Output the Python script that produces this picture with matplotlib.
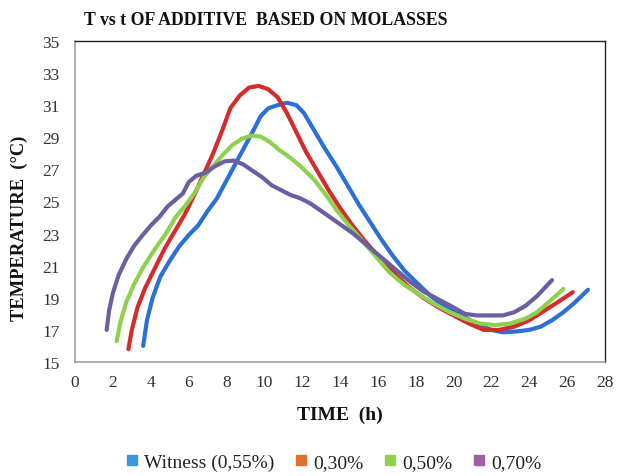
import matplotlib
matplotlib.use("Agg")
import matplotlib.pyplot as plt
from matplotlib.lines import Line2D

# Temperature (°C) over time (h) for molasses-based additive doses
t_witness = [3.6, 3.8, 4.1, 4.5, 5.0, 5.5, 6.0, 6.5, 7.0, 7.5, 8.0, 8.5, 9.0, 9.5, 9.8, 10.2, 10.7,
             11.2, 11.7, 12.1, 12.6, 13.2, 13.8, 14.4, 15.0, 15.6, 16.2, 16.8, 17.4, 18.0, 18.8,
             19.6, 20.4, 21.2, 22.0, 22.6, 23.3, 24.0, 24.6, 25.2, 25.8, 26.4, 27.1]
T_witness = [16.0, 17.6, 19.0, 20.3, 21.3, 22.2, 22.9, 23.5, 24.4, 25.2, 26.3, 27.4, 28.5, 29.6, 30.3,
             30.8, 31.0, 31.15, 31.0, 30.5, 29.5, 28.3, 27.2, 26.0, 24.8, 23.7, 22.6, 21.6, 20.7,
             20.0, 19.1, 18.4, 17.9, 17.4, 17.0, 16.85, 16.9, 17.0, 17.2, 17.6, 18.1, 18.7, 19.5]

t_030 = [2.82, 3.0, 3.3, 3.7, 4.2, 4.75, 5.3, 5.8, 6.3, 6.8, 7.3, 7.8, 8.2, 8.7, 9.2, 9.7, 10.2,
         10.7, 11.2, 11.7, 12.2, 12.8, 13.4, 14.0, 14.6, 15.2, 16.0, 16.8, 17.6, 18.4, 19.2, 20.0,
         20.8, 21.6, 22.4, 23.2, 24.0, 24.8, 25.6, 26.3]
T_030 = [15.8, 17.0, 18.4, 19.6, 20.8, 22.1, 23.2, 24.2, 25.4, 26.7, 28.0, 29.5, 30.8, 31.6, 32.1,
         32.2, 32.0, 31.5, 30.5, 29.3, 28.1, 26.9, 25.7, 24.6, 23.6, 22.7, 21.6, 20.6, 19.7, 19.0,
         18.4, 17.9, 17.4, 17.0, 17.0, 17.2, 17.6, 18.2, 18.8, 19.35]

t_050 = [2.2, 2.4, 2.7, 3.1, 3.6, 4.2, 4.8, 5.3, 5.8, 6.3, 6.8, 7.3, 7.8, 8.3, 8.8, 9.3, 9.8, 10.3,
         10.8, 11.4, 12.0, 12.6, 13.2, 13.8, 14.4, 15.0, 15.8, 16.6, 17.4, 18.2, 19.0, 19.8, 20.6,
         21.4, 22.2, 23.0, 23.8, 24.4, 25.0, 25.8]
T_050 = [16.3, 17.5, 18.7, 19.8, 20.9, 22.0, 23.0, 24.0, 24.7, 25.5, 26.5, 27.2, 27.9, 28.5, 28.9,
         29.1, 29.05, 28.7, 28.2, 27.7, 27.1, 26.4, 25.5, 24.5, 23.6, 22.8, 21.7, 20.6, 19.8, 19.2,
         18.6, 18.1, 17.7, 17.4, 17.3, 17.4, 17.7, 18.1, 18.7, 19.55]

t_070 = [1.67, 1.8, 2.0, 2.3, 2.7, 3.1, 3.5, 4.0, 4.5, 4.9, 5.3, 5.7, 6.0, 6.4, 6.9, 7.4, 7.9, 8.4,
         8.9, 9.4, 9.9, 10.4, 10.9, 11.4, 11.9, 12.4, 12.9, 13.5, 14.1, 14.7, 15.3, 15.9, 16.5,
         17.1, 17.7, 18.4, 19.2, 20.0, 20.6, 21.2, 22.0, 22.6, 23.2, 23.8, 24.4, 25.2]
T_070 = [17.0, 18.2, 19.3, 20.4, 21.4, 22.2, 22.8, 23.5, 24.1, 24.7, 25.1, 25.5, 26.2, 26.6, 26.8,
         27.2, 27.5, 27.55, 27.3, 26.9, 26.5, 26.0, 25.7, 25.4, 25.2, 24.9, 24.5, 24.0, 23.5, 23.0,
         22.4, 21.8, 21.2, 20.6, 20.0, 19.4, 18.9, 18.4, 18.0, 17.9, 17.9, 17.9, 18.1, 18.5, 19.1,
         20.1]

labels = ["Witness (0,55%)", "0,30%", "0,50%", "0,70%"]
line_colors = ["#2b6fd8", "#d42b2b", "#8fd04f", "#6b5fa2"]
legend_colors = ["#3a9ad9", "#e07030", "#92d050", "#9a60a0"]

plt.rcParams["font.family"] = ["Liberation Serif", "DejaVu Serif"]

fig = plt.figure(figsize=(6.18, 4.77), dpi=100)
ax = fig.add_axes([0.1214, 0.239, 0.8576, 0.673])

series = [(t_witness, T_witness), (t_030, T_030), (t_050, T_050), (t_070, T_070)]
for (x, y), c in zip(series, line_colors):
    ax.plot(x, y, color=c, lw=3.0, solid_capstyle="round", solid_joinstyle="round")

ax.set_xlim(0, 28)
ax.set_ylim(15, 35)
ax.set_xticks(range(0, 29, 2))
ax.set_yticks(range(15, 36, 2))
ax.tick_params(length=0, labelsize=12.5, colors="#333333")
ax.tick_params(axis="x", pad=9)
ax.tick_params(axis="y", pad=11)

for s in ["left", "bottom"]:
    ax.spines[s].set_color("#a0a0a0")
    ax.spines[s].set_linewidth(1.2)
for s in ["top", "right"]:
    ax.spines[s].set_color("#222222")
    ax.spines[s].set_linewidth(1.0)

fig.text(0.43, 0.958, "T vs t OF ADDITIVE  BASED ON MOLASSES", fontsize=12.8,
         fontweight="bold", ha="center", va="center", color="#111111")
fig.text(340 / 618, 0.130, "TIME  (h)", fontsize=14, fontweight="bold",
         ha="center", va="center", color="#111111")
fig.text(0.032, 0.522, "TEMPERATURE  (°C)", fontsize=13.3, fontweight="bold",
         rotation=90, ha="center", va="center", color="#111111")

handles = [Line2D([], [], marker="s", linestyle="none", markersize=7,
                  markerfacecolor=c, markeredgecolor=c) for c in legend_colors]
fig.legend(handles, labels, loc="center", bbox_to_anchor=(0.540, 0.029), ncol=4,
           frameon=False, fontsize=14, handlelength=0.6, handletextpad=0.3,
           columnspacing=1.1, labelcolor="#222222")

fig.savefig("out.png", dpi=100)
